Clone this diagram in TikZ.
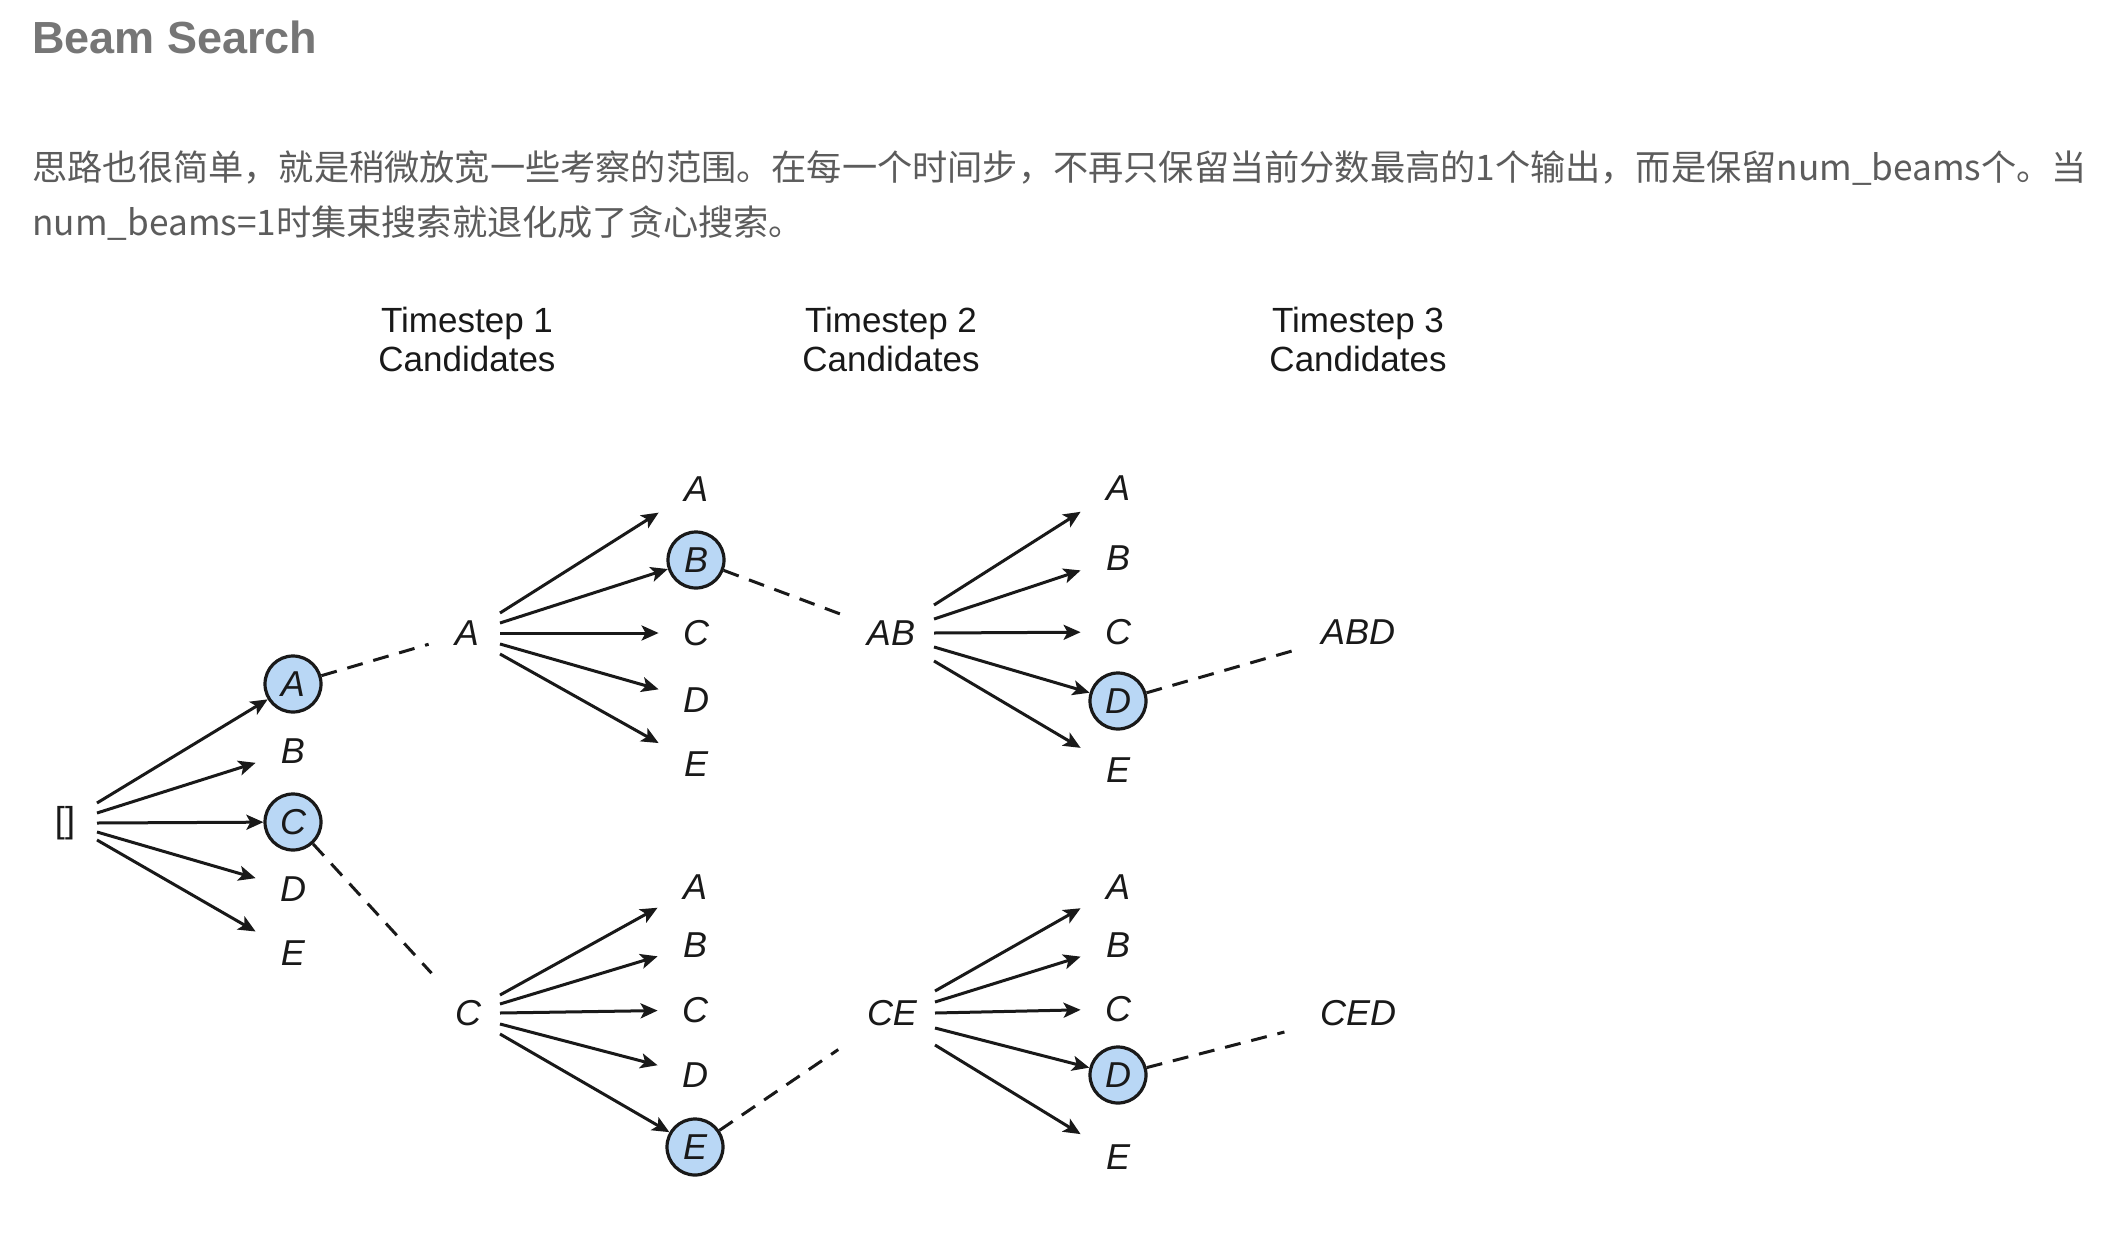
\documentclass[tikz,border=0pt]{standalone}
\usepackage{fontspec}
\setmainfont{Liberation Sans}
\newfontfamily\cjk{Noto Sans CJK SC}
\usetikzlibrary{arrows.meta,calc}
\definecolor{beamblue}{RGB}{185,215,245}
\definecolor{titlegray}{RGB}{118,118,118}
\definecolor{bodygray}{RGB}{92,92,92}
\definecolor{ink}{RGB}{25,25,25}
\begin{document}
\begin{tikzpicture}[x=0.5pt,y=-0.5pt,
  lbl/.style={font=\fontsize{18}{20}\selectfont\itshape, text=ink, inner sep=0pt},
  tgt/.style={lbl, minimum width=37pt, minimum height=32pt},
  sel/.style={lbl, circle, draw=ink, line width=1.6pt, fill=beamblue, minimum size=28pt},
  hdr/.style={font=\fontsize{17.5}{19.5}\selectfont, text=ink, align=center},
  arr/.style={-{Stealth[length=8.5pt,width=7.5pt,inset=2pt]}, line width=1.5pt, draw=ink},
  dsh/.style={dash pattern=on 8pt off 5.5pt, line width=1.5pt, draw=ink},
]
\fill[white] (0,0) rectangle (2110,1242);
\useasboundingbox (0,0) rectangle (2110,1242);

% text above the diagram
\node[anchor=base west, inner sep=0pt, font=\fontsize{22.5}{27}\selectfont\bfseries, text=titlegray] (title) at (32,54) {Beam Search};
\node[anchor=west, inner sep=0pt, font=\cjk\fontsize{17.6}{20}\selectfont, text=bodygray] (p1) at (32,168) {思路也很简单，就是稍微放宽一些考察的范围。在每一个时间步，不再只保留当前分数最高的1个输出，而是保留num\_beams个。当};
\node[anchor=west, inner sep=0pt, font=\cjk\fontsize{17.6}{20}\selectfont, text=bodygray] (p2) at (32,223) {num\_beams=1时集束搜索就退化成了贪心搜索。};

% headers
\node[hdr] (h1) at (467,339) {Timestep 1\\Candidates};
\node[hdr] (h2) at (891,339) {Timestep 2\\Candidates};
\node[hdr] (h3) at (1358,339) {Timestep 3\\Candidates};

% root
\node[lbl, font=\fontsize{18}{20}\selectfont] (root) at (65,823) {[]};

% timestep 1
\node[sel] (a1A) at (293,684) {A};
\node[tgt] (a1B) at (293,751) {B};
\node[sel] (a1C) at (293,822) {C};
\node[tgt] (a1D) at (293,889) {D};
\node[tgt] (a1E) at (293,953) {E};

% timestep 2 sources
\node[lbl] (sA) at (467,633) {A};
\node[lbl] (sC) at (468,1013) {C};

% timestep 2 top candidates
\node[tgt] (t2A) at (696,489) {A};
\node[sel] (t2B) at (696,560) {B};
\node[tgt] (t2C) at (696,633) {C};
\node[tgt] (t2D) at (696,700) {D};
\node[tgt] (t2E) at (696,764) {E};

% timestep 2 bottom candidates
\node[tgt] (b2A) at (695,887) {A};
\node[tgt] (b2B) at (695,945) {B};
\node[tgt] (b2C) at (695,1010) {C};
\node[tgt] (b2D) at (695,1075) {D};
\node[sel] (b2E) at (695,1147) {E};

% timestep 3 sources
\node[lbl] (sAB) at (891,633) {AB};
\node[lbl] (sCE) at (892,1013) {CE};

% timestep 3 top candidates
\node[tgt] (t3A) at (1118,488) {A};
\node[tgt] (t3B) at (1118,558) {B};
\node[tgt] (t3C) at (1118,632) {C};
\node[sel] (t3D) at (1118,701) {D};
\node[tgt] (t3E) at (1118,770) {E};

% timestep 3 bottom candidates
\node[tgt] (b3A) at (1118,887) {A};
\node[tgt] (b3B) at (1118,945) {B};
\node[tgt] (b3C) at (1118,1009) {C};
\node[sel] (b3D) at (1118,1075) {D};
\node[tgt] (b3E) at (1118,1157) {E};

% results
\node[lbl] (rABD) at (1358,632) {ABD};
\node[lbl] (rCED) at (1358,1013) {CED};

% fan from root
\draw[arr] ($(root)+(32,-20)$) -- (a1A);
\draw[arr] ($(root)+(32,-10)$) -- (a1B);
\draw[arr] ($(root)+(32,0)$) -- (a1C);
\draw[arr] ($(root)+(32,9)$) -- (a1D);
\draw[arr] ($(root)+(32,17)$) -- (a1E);

% fan from A
\draw[arr] ($(sA)+(33,-20)$) -- (t2A);
\draw[arr] ($(sA)+(33,-10)$) -- (t2B);
\draw[arr] ($(sA)+(33,0)$) -- (t2C);
\draw[arr] ($(sA)+(33,11)$) -- (t2D);
\draw[arr] ($(sA)+(33,21)$) -- (t2E);

% fan from C
\draw[arr] ($(sC)+(32,-18)$) -- (b2A);
\draw[arr] ($(sC)+(32,-9)$) -- (b2B);
\draw[arr] ($(sC)+(32,0)$) -- (b2C);
\draw[arr] ($(sC)+(32,11)$) -- (b2D);
\draw[arr] ($(sC)+(32,21)$) -- (b2E);

% fan from AB
\draw[arr] ($(sAB)+(43,-28)$) -- (t3A);
\draw[arr] ($(sAB)+(43,-14)$) -- (t3B);
\draw[arr] ($(sAB)+(43,0)$) -- (t3C);
\draw[arr] ($(sAB)+(43,14)$) -- (t3D);
\draw[arr] ($(sAB)+(43,28)$) -- (t3E);

% fan from CE
\draw[arr] ($(sCE)+(43,-22)$) -- (b3A);
\draw[arr] ($(sCE)+(43,-11)$) -- (b3B);
\draw[arr] ($(sCE)+(43,0)$) -- (b3C);
\draw[arr] ($(sCE)+(43,15)$) -- (b3D);
\draw[arr] ($(sCE)+(43,32)$) -- (b3E);

% dashed beam continuations
\draw[dsh, shorten >=20pt] (a1A) -- (sA.center);
\draw[dsh, shorten >=27pt] (a1C) -- (sC.center);
\draw[dsh, shorten >=22.5pt] (t2B) -- (sAB.center);
\draw[dsh, shorten >=32.5pt] (b2E) -- (sCE.center);
\draw[dsh, shorten >=30pt] (t3D) -- (rABD.center);
\draw[dsh, shorten >=38pt] (b3D) -- (rCED.center);
\end{tikzpicture}
\end{document}
